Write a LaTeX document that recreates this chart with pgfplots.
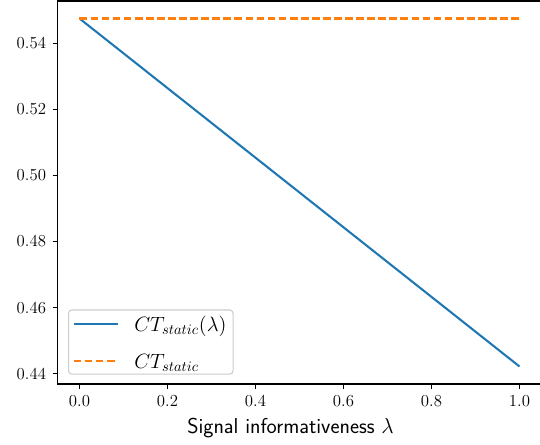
\RequirePackage{fix-cm}
\documentclass[border=0pt]{standalone}
\usepackage{pgfplots}
\pgfplotsset{compat=1.18}
\usepackage{xcolor}

\definecolor{mplblue}{HTML}{1F77B4}
\definecolor{mplorange}{HTML}{FF7F0E}

% 1 px of the reference = 0.75pt
\begin{document}
\begin{tikzpicture}
\begin{axis}[
    scale only axis,
    width=363pt,
    height=287.25pt,
    xmin=-0.05, xmax=1.05,
    ymin=0.4369, ymax=0.5528,
    axis x line*=box,
    axis y line*=left,
    axis line style={line width=0.83pt, -},
    xtick pos=bottom, ytick pos=left,
    tick align=outside,
    tick style={line width=0.83pt, black},
    major tick length=3.6pt,
    xtick={0,0.2,0.4,0.6,0.8,1.0},
    ytick={0.44,0.46,0.48,0.50,0.52,0.54},
    xticklabel style={yshift=-1.5pt, /pgf/number format/.cd, fixed, fixed zerofill, precision=1},
    yticklabel style={xshift=-1.5pt, /pgf/number format/.cd, fixed, fixed zerofill, precision=2},
    tick label style={font=\fontsize{12.6}{15}\selectfont},
    xlabel={\sffamily Signal informativeness $\lambda$},
    xlabel style={font=\fontsize{16.2}{18}\selectfont, xshift=-6.75pt, yshift=-2.25pt},
    legend cell align=left,
    legend image code/.code={\draw[#1] (0pt,0pt) -- (33pt,0pt); \path[draw=none, fill=none] (0pt,0pt) -- (43.5pt,0pt);},
    legend style={
        at={(0,0)}, anchor=south west, xshift=7.9pt, yshift=7pt,
        draw=black!20, line width=0.8pt, rounded corners=2.5pt,
        fill=white, fill opacity=0.8, text opacity=1,
        font=\fontsize{15.5}{18}\selectfont,
        nodes={text depth=0pt},
        inner xsep=3pt, inner ysep=2.5pt, row sep=12.9pt,
    },
]
\addplot[mplblue, line width=1.56pt] coordinates {
    (0.0,0.5475)
    (1.0,0.4422)
};
\addlegendentry{$CT_{static}(\lambda)$\hspace{5pt}}
\addplot[mplorange, line width=1.56pt, dash pattern=on 5.8pt off 2.5pt] coordinates {
    (0.0,0.5475)
    (1.0,0.5475)
};
\addlegendentry{$CT_{static}$}
\coordinate (o) at (rel axis cs:0,0);
\end{axis}
\pgfresetboundingbox
\useasboundingbox (o) ++(-43.125pt,-45.75pt) rectangle ++(405pt,333.75pt);
\end{tikzpicture}
\end{document}
